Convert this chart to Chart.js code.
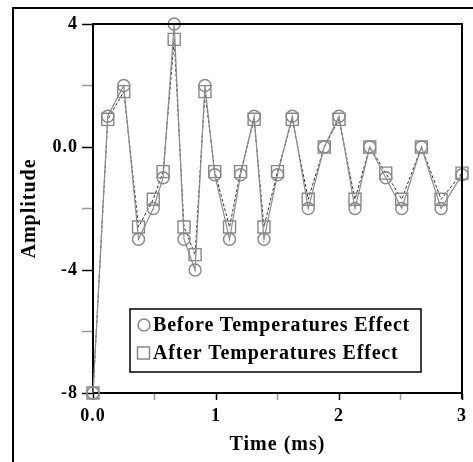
<!DOCTYPE html>
<html>
<head>
<meta charset="utf-8">
<script src="https://cdn.jsdelivr.net/npm/chart.js@4.4.0/dist/chart.umd.min.js"></script>
<style>
html, body { margin: 0; padding: 0; background: #fff; overflow: hidden; }
#wrap { position: relative; width: 473px; height: 462px; }
#frame { position: absolute; left: 12px; top: 7px; width: 500px; height: 500px;
         border-left: 2px solid #000; border-top: 2px solid #000; }
canvas { position: absolute; left: 0; top: 0; }
</style>
</head>
<body>
<div id="wrap">
  <div id="frame"></div>
  <canvas id="mycanvas" width="473" height="462"></canvas>
</div>
<script>
// values
var timeMs = [0, 0.12, 0.25, 0.37, 0.49, 0.57, 0.66, 0.74, 0.83, 0.91, 0.99, 1.11, 1.2, 1.31,
              1.39, 1.5, 1.62, 1.75, 1.88, 2.0, 2.13, 2.25, 2.38, 2.51, 2.67, 2.83, 3.0];
var beforeAmp = [-8, 1.0, 2.0, -3.0, -2.0, -1.0, 4.0, -3.0, -4.0, 2.0, -0.9, -3.0, -0.9, 1.0,
                 -3.0, -0.9, 1.0, -2.0, 0.0, 1.0, -2.0, 0.0, -1.0, -2.0, 0.0, -2.0, -0.9];
var afterAmp = [-8, 0.9, 1.8, -2.6, -1.7, -0.8, 3.5, -2.6, -3.5, 1.8, -0.8, -2.6, -0.8, 0.9,
                -2.6, -0.8, 0.9, -1.7, 0.0, 0.9, -1.7, 0.0, -0.85, -1.7, 0.0, -1.7, -0.85];
var seriesNames = ['Before Temperatures Effect', 'After Temperatures Effect'];
var xTickValues = [0, 1, 2, 3];
var xTickLabels = ['0.0', '1', '2', '3'];
var yTickValues = [4, 0, -4, -8];
var yTickLabels = ['4', '0.0', '-4', '-8'];

function toPoints(xs, ys) {
	var pts = [];
	for (var i in xs) {
		pts.push({x: xs[i], y: ys[i]});
	}
	return pts;
}

function tickText(values, labels) {
	return function(v) {
		var k = values.indexOf(v);
		return k >= 0 ? labels[k] : '';
	};
}

function tickCol(values) {
	return function(c) {
		return values.indexOf(c.tick.value) >= 0 ? '#000' : '#999';
	};
}

var serif = '"Liberation Serif", "Times New Roman", serif';

// frame + legend drawn on top
var boxPlugin = {
	id: 'boxLegend',
	beforeDraw: function(chart) {
		// the original text is a bit spread out
		chart.ctx.letterSpacing = '1px';
	},
	afterDraw: function(chart) {
		var ctx = chart.ctx, a = chart.chartArea;
		ctx.save();
		ctx.strokeStyle = '#000';
		ctx.lineWidth = 2;
		ctx.beginPath();
		ctx.moveTo(a.left, a.top);
		ctx.lineTo(a.right, a.top);
		ctx.lineTo(a.right, a.bottom + 6);
		ctx.stroke();

		// legend
		ctx.fillStyle = '#fff';
		ctx.fillRect(130, 309, 291, 63);
		ctx.lineWidth = 1.5;
		ctx.strokeRect(130, 309, 291, 63);
		ctx.strokeStyle = '#888';
		ctx.lineWidth = 1.5;
		ctx.beginPath();
		ctx.arc(144, 325, 6, 0, Math.PI * 2);
		ctx.stroke();
		ctx.strokeRect(137.5, 347, 12, 12);
		ctx.fillStyle = '#000';
		ctx.font = 'bold 20px ' + serif;
		ctx.letterSpacing = '0.8px';
		ctx.textBaseline = 'middle';
		ctx.textAlign = 'left';
		ctx.fillText(chart.data.datasets[0].label, 153, 326);
		ctx.fillText(chart.data.datasets[1].label, 153, 354);
		ctx.restore();
	}
};

var ctx = document.getElementById('mycanvas');
var myChart = new Chart(ctx, {
	type: 'line',
	data: {
		datasets: [{
			label: seriesNames[0],
			data: toPoints(timeMs, beforeAmp),
			borderColor: '#8c8c8c',
			borderWidth: 1.2,
			pointStyle: 'circle',
			pointRadius: 6,
			pointBorderColor: '#888',
			pointBorderWidth: 1.4,
			pointBackgroundColor: 'rgba(0,0,0,0)',
			tension: 0,
			clip: false
		}, {
			label: seriesNames[1],
			data: toPoints(timeMs, afterAmp),
			borderColor: '#333',
			borderWidth: 1,
			borderDash: [3, 2],
			pointStyle: 'rect',
			pointRadius: 8.5,
			pointBorderColor: '#888',
			pointBorderWidth: 1.4,
			pointBackgroundColor: 'rgba(0,0,0,0)',
			tension: 0,
			clip: false
		}]
	},
	options: {
		responsive: false,
		animation: false,
		devicePixelRatio: 1,
		layout: {padding: {left: 0, top: 24, right: 11, bottom: 0}},
		plugins: {legend: {display: false}, tooltip: {enabled: false}},
		scales: {
			x: {
				type: 'linear', min: 0, max: 3,
				ticks: {stepSize: 0.5, autoSkip: false, maxRotation: 0, padding: 6, color: '#000',
					font: {family: serif, size: 18, weight: 'bold'},
					callback: tickText(xTickValues, xTickLabels)},
				grid: {drawOnChartArea: false, tickLength: 7, tickColor: tickCol(xTickValues), tickWidth: 1.5},
				border: {color: '#000', width: 2},
				title: {display: true, text: 'Time (ms)', color: '#000',
					font: {family: serif, size: 20, weight: 'bold'}, padding: {top: 0, bottom: 5}},
				afterFit: function(s) { s.height = 69; }
			},
			y: {
				min: -8, max: 4,
				ticks: {stepSize: 2, autoSkip: false, padding: 4, color: '#000',
					font: {family: serif, size: 18, weight: 'bold'},
					callback: tickText(yTickValues, yTickLabels)},
				grid: {drawOnChartArea: false, tickLength: 11, tickColor: tickCol(yTickValues), tickWidth: 1.5},
				border: {color: '#000', width: 2},
				title: {display: true, text: 'Amplitude', color: '#000',
					font: {family: serif, size: 20, weight: 'bold'}, padding: {top: 18, bottom: 0}},
				afterFit: function(s) { s.width = 93; }
			}
		}
	},
	plugins: [boxPlugin]
});
</script>
</body>
</html>
